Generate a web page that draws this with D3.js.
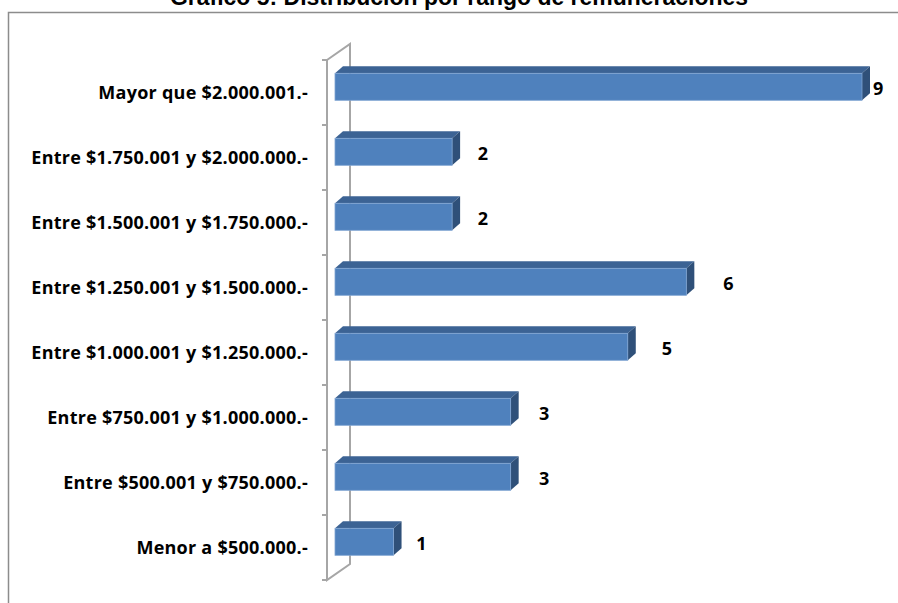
<!DOCTYPE html>
<html>
<head>
<meta charset="utf-8">
<script src="https://cdn.jsdelivr.net/npm/d3@7"></script>
<style>
  body { margin: 0; background: #fff; }
  svg { display: block; }
  .cat { font-family: 'Open Sans', Lato, sans-serif; font-weight: bold; font-size: 18px; letter-spacing: 0.25px; fill: #000; }
  .val { font-family: 'Open Sans', Lato, sans-serif; font-weight: bold; font-size: 18px; fill: #000; }
  .title { font-family: 'Liberation Sans Narrow', 'Liberation Sans', Arial, sans-serif; font-weight: bold; font-size: 24px; fill: #000; }
</style>
</head>
<body>
<div class="chart"></div>
<script>
// data
const categories = [
    'Mayor que $2.000.001.-',
    'Entre $1.750.001 y $2.000.000.-',
    'Entre $1.500.001 y $1.750.000.-',
    'Entre $1.250.001 y $1.500.000.-',
    'Entre $1.000.001 y $1.250.000.-',
    'Entre $750.001 y $1.000.000.-',
    'Entre $500.001 y $750.000.-',
    'Menor a $500.000.-'
];
const values = [9, 2, 2, 6, 5, 3, 3, 1];
const titleText = 'Gráfico 5: Distribución por rango de remuneraciones';

const data = categories.map((c, i) => ({ cat: c, value: values[i] }));

const svg_width = 898;
const svg_height = 603;
const svg = d3.select('.chart').append('svg')
    .attr('width', svg_width).attr('height', svg_height);

// outer frame (runs off the right / bottom edge)
svg.append('rect')
    .attr('x', 8.5).attr('y', 12.5)
    .attr('width', 1000).attr('height', 1000)
    .style('fill', 'none').style('stroke', '#8c8c8c').style('stroke-width', 1.5);

// title, cut at the top like the source image
svg.append('text').attr('class', 'title')
    .attr('x', 170).attr('y', 5)
    .attr('textLength', 578).attr('lengthAdjust', 'spacingAndGlyphs')
    .text(titleText);

// scales
const xScale = d3.scaleLinear().domain([0, 9]).range([335, 862]);
const yScale = d3.scaleBand().domain(categories).range([60, 580]).padding(0);
const bw = yScale.bandwidth();

// 3d depth
const dx = 8, dy = -7;
const wallDx = 23, wallDy = -16;
const wallX = xScale(0) - 8;

// wall (axis)
const wall = svg.append('g').attr('class', 'wall')
    .style('stroke', '#a6a6a6').style('stroke-width', 2).style('fill', 'none');
wall.append('path')
    .attr('d', `M${wallX},${yScale.range()[0]} L${wallX},${yScale.range()[1]}`
        + ` L${wallX + wallDx},${yScale.range()[1] + wallDy}`
        + ` L${wallX + wallDx},${yScale.range()[0] + wallDy}`
        + ` L${wallX},${yScale.range()[0]}`);

// ticks between categories
const tickYs = categories.map(c => yScale(c)).concat([yScale.range()[1]]);
wall.selectAll('.tick')
    .data(tickYs)
    .enter()
    .append('line')
    .attr('x1', wallX - 5).attr('x2', wallX)
    .attr('y1', d => d).attr('y2', d => d);

// category labels
const yAxis = d3.axisLeft(yScale).tickSize(0).tickPadding(0);
const yAxisDraw = svg.append('g').attr('transform', `translate(308,0)`).call(yAxis);
yAxisDraw.select('.domain').remove();
yAxisDraw.attr('font-family', null).attr('font-size', null);
yAxisDraw.selectAll('text').attr('class', 'cat').attr('dy', '0.35em');

// bars
const bars = svg.selectAll('.bar')
    .data(data)
    .enter()
    .append('g')
    .attr('class', 'bar');

const barTop = d => yScale(d.cat) + bw * 0.205;
const barH = bw * 0.415;

// top face
bars.append('path')
    .attr('d', d => {
        const x0 = xScale(0), x1 = xScale(d.value), y0 = barTop(d);
        return `M${x0},${y0} L${x0 + dx},${y0 + dy} L${x1 + dx},${y0 + dy} L${x1},${y0} Z`;
    })
    .style('fill', '#3c6394');
// side face
bars.append('path')
    .attr('d', d => {
        const x1 = xScale(d.value), y0 = barTop(d);
        return `M${x1},${y0} L${x1 + dx},${y0 + dy} L${x1 + dx},${y0 + barH + dy} L${x1},${y0 + barH} Z`;
    })
    .style('fill', '#2f5079');
// front face
bars.append('rect')
    .attr('x', xScale(0))
    .attr('y', d => barTop(d))
    .attr('width', d => xScale(d.value) - xScale(0))
    .attr('height', barH)
    .style('fill', '#4f81bd')
    .style('stroke', '#7ea3d2').style('stroke-width', 0.8);

// value labels
svg.selectAll('.val')
    .data(data)
    .enter()
    .append('text')
    .attr('class', 'val')
    .attr('x', d => Math.min(xScale(d.value) + 20 + 2.8 * d.value, 873))
    .attr('y', d => yScale(d.cat) + bw / 2 - 4)
    .attr('dy', '0.35em')
    .text(d => d.value);
</script>
</body>
</html>
